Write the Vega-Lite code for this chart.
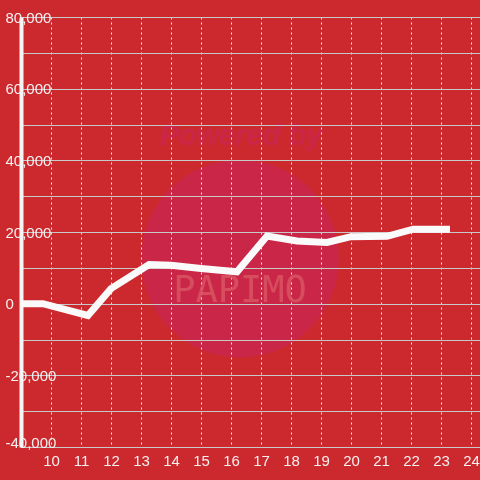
{
  "$schema": "https://vega.github.io/schema/vega-lite/v6.json",
  "width": 459,
  "height": 430,
  "autosize": {"type": "none"},
  "padding": {"left": 21, "top": 17, "right": 0, "bottom": 33},
  "background": "#CC292E",
  "config": {
    "view": {"stroke": null},
    "font": "Liberation Sans",
    "axis": {"labelFont": "Liberation Sans", "labelFontSize": 15, "labelColor": "#F4F0F0", "title": null, "labelOverlap": false}
  },
  "layer": [
    {
      "data": {"values": [{"label": "watermark"}]},
      "mark": {"type": "point", "filled": true, "shape": "circle", "size": 39000, "color": "#C8284A", "opacity": 1, "blend": "hue"},
      "encoding": {
        "x": {
          "datum": 16.3,
          "type": "quantitative",
          "scale": {"domain": [9, 24.3], "nice": false, "zero": false},
          "axis": {
            "values": [10, 11, 12, 13, 14, 15, 16, 17, 18, 19, 20, 21, 22, 23, 24],
            "tickCount": 30,
            "format": "d",
            "labelOverlap": false,
            "domain": false,
            "ticks": false,
            "tickSize": 0,
            "labelPadding": 6,
            "grid": true,
            "gridColor": "#ECECEC",
            "gridDash": [2, 3],
            "gridWidth": 1,
            "labelFlush": false
          }
        },
        "y": {
          "datum": 12560,
          "type": "quantitative",
          "scale": {"domain": [-40000, 80000], "nice": false},
          "axis": {
            "values": [-40000, -30000, -20000, -10000, 0, 10000, 20000, 30000, 40000, 50000, 60000, 70000, 80000],
            "tickCount": 30,
            "format": ",d",
            "labelExpr": "datum.value % 20000 === 0 ? replace(datum.label, '\u2212', '-') : ''",
            "labelOverlap": false,
            "domain": true,
            "domainColor": "#F5F5F5",
            "domainWidth": 4,
            "ticks": false,
            "tickSize": 0,
            "labelPadding": 16,
            "labelAlign": "left",
            "labelBaseline": "middle",
            "labelFlush": false,
            "labelOffset": {"condition": {"test": "datum.value === -40000", "value": -5}, "value": 0},
            "grid": true,
            "gridColor": "#C8C8C8",
            "gridWidth": 1
          }
        }
      }
    },
    {
      "data": {"values": [{"label": "Powered by"}]},
      "mark": {"type": "text", "font": "Liberation Sans", "fontSize": 29, "fontStyle": "italic", "fontWeight": "bold", "color": "#C8284A", "blend": "hue", "align": "center", "baseline": "alphabetic"},
      "encoding": {
        "x": {"datum": 16.33, "type": "quantitative"},
        "y": {"datum": 44400, "type": "quantitative"},
        "text": {"field": "label"}
      }
    },
    {
      "data": {"values": [{"label": "PAPIMO"}]},
      "mark": {"type": "text", "font": "DejaVu Sans Mono", "fontSize": 37, "color": "#D95463", "opacity": 0.85, "align": "center", "baseline": "alphabetic"},
      "encoding": {
        "x": {"datum": 16.3, "type": "quantitative"},
        "y": {"datum": 560, "type": "quantitative"},
        "text": {"field": "label"}
      }
    },
    {
      "mark": {"type": "rule", "color": "#F8F8F8", "strokeWidth": 3},
      "encoding": {"y": {"datum": 0, "type": "quantitative"}}
    },
    {
      "data": {
        "values": [
          {"x": 9, "y": 0},
          {"x": 9.73, "y": 0},
          {"x": 11.23, "y": -3300},
          {"x": 12, "y": 4200},
          {"x": 13.27, "y": 10900},
          {"x": 14, "y": 10700},
          {"x": 15, "y": 9800},
          {"x": 16.2, "y": 8900},
          {"x": 17.2, "y": 18900},
          {"x": 18.2, "y": 17500},
          {"x": 19.2, "y": 17100},
          {"x": 20, "y": 18700},
          {"x": 21.2, "y": 18800},
          {"x": 22.07, "y": 20800},
          {"x": 23.3, "y": 20800}
        ]
      },
      "mark": {"type": "line", "color": "#FAFAFA", "strokeWidth": 7},
      "encoding": {
        "x": {"field": "x", "type": "quantitative"},
        "y": {"field": "y", "type": "quantitative"}
      }
    }
  ]
}
